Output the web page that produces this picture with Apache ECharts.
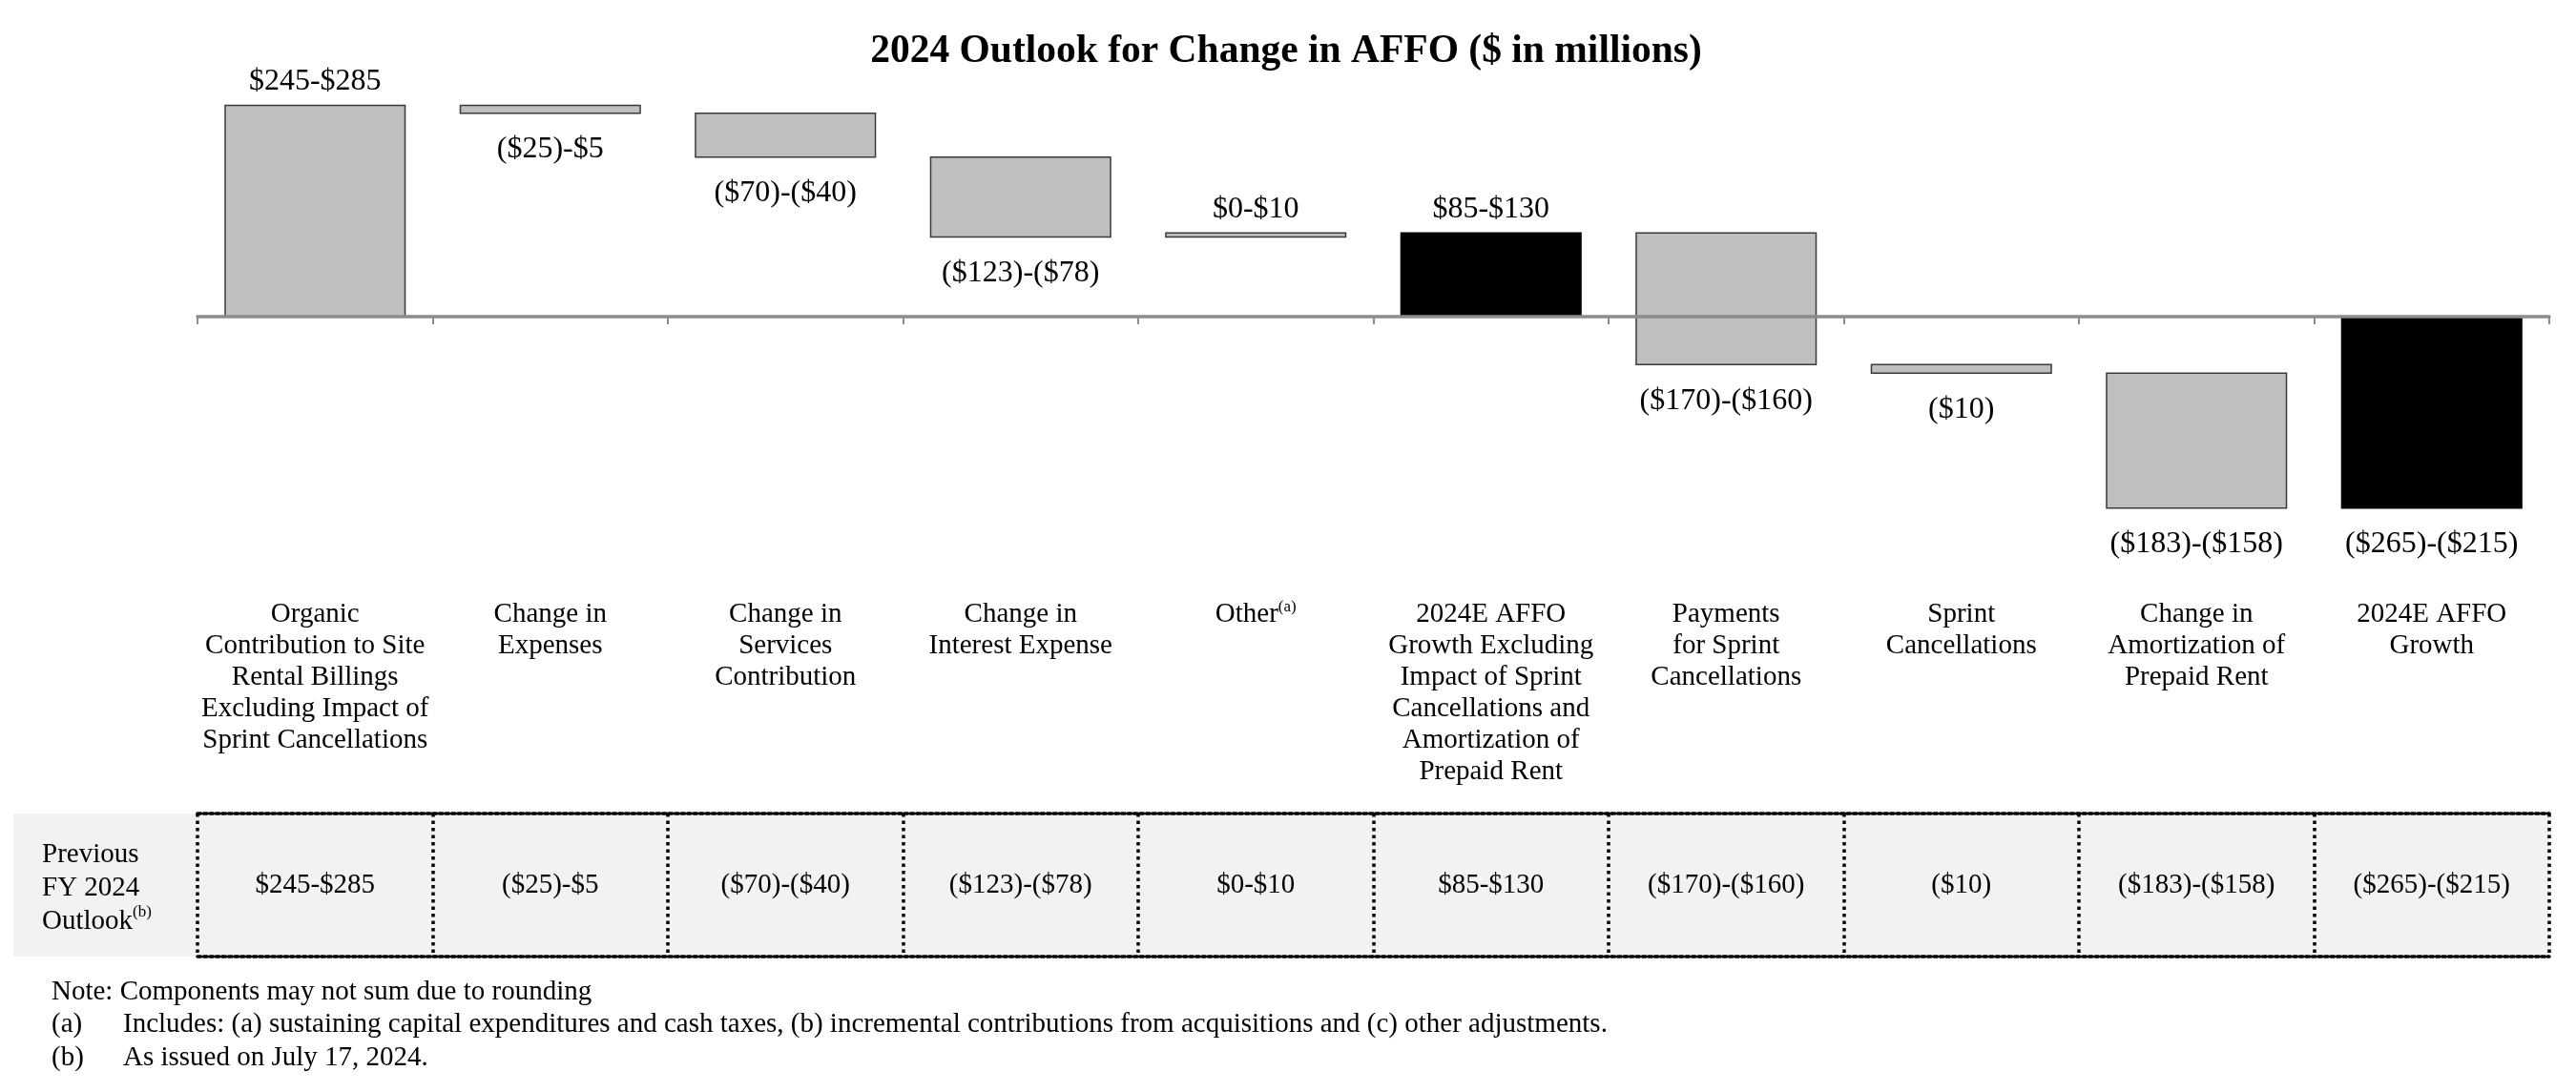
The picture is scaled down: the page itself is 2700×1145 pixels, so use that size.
<!DOCTYPE html>
<html><head><meta charset="utf-8">
<script src="https://cdn.jsdelivr.net/npm/echarts@6/dist/echarts.min.js"></script>
<style>html,body{margin:0;padding:0;background:#fff}#c{width:2700px;height:1145px}</style>
</head><body><div id="c"></div>
<script>
const titleText = '2024 Outlook for Change in AFFO ($ in millions)';
const categories = [
  'Organic\nContribution to Site\nRental Billings\nExcluding Impact of\nSprint Cancellations',
  'Change in\nExpenses',
  'Change in\nServices\nContribution',
  'Change in\nInterest Expense',
  'Other',
  '2024E AFFO\nGrowth Excluding\nImpact of Sprint\nCancellations and\nAmortization of\nPrepaid Rent',
  'Payments\nfor Sprint\nCancellations',
  'Sprint\nCancellations',
  'Change in\nAmortization of\nPrepaid Rent',
  '2024E AFFO\nGrowth'
];
const footnoteMarks = ['', '', '', '', '(a)', '', '', '', '', ''];
const barStart = [0, 265, 255, 200, 100, 0, 105, -60, -71, 0];
const barEnd   = [265, 255, 200, 100, 105, 105, -60, -71, -240, -240];
const barKind  = ['step','step','step','step','step','total','step','step','step','total'];
const valueLabels = ['$245-$285','($25)-$5','($70)-($40)','($123)-($78)','$0-$10','$85-$130','($170)-($160)','($10)','($183)-($158)','($265)-($215)'];
const previousOutlook = ['$245-$285','($25)-$5','($70)-($40)','($123)-($78)','$0-$10','$85-$130','($170)-($160)','($10)','($183)-($158)','($265)-($215)'];
const rowHeader = 'Previous\nFY 2024\nOutlook{sup|(b)}';
const notes = [
  ['', 'Note: Components may not sum due to rounding'],
  ['(a)', 'Includes: (a) sustaining capital expenditures and cash taxes, (b) incremental contributions from acquisitions and (c) other adjustments.'],
  ['(b)', 'As issued on July 17, 2024.']
];

const FONT = '"Liberation Serif", "Times New Roman", serif';
const chart = echarts.init(document.getElementById('c'), null, {renderer: 'canvas'});

const noteElems = [];
const noteY = [1040, 1074, 1109];
notes.forEach((n, k) => {
  if (n[0] === '') {
    noteElems.push({type: 'text', x: 54, y: noteY[k], z: 10, style: {text: n[1], fontSize: 29, fontFamily: FONT, fill: '#000', verticalAlign: 'middle'}});
  } else {
    noteElems.push({type: 'text', x: 54, y: noteY[k], z: 10, style: {text: n[0], fontSize: 29, fontFamily: FONT, fill: '#000', verticalAlign: 'middle'}});
    noteElems.push({type: 'text', x: 129, y: noteY[k], z: 10, style: {text: n[1], fontSize: 29, fontFamily: FONT, fill: '#000', verticalAlign: 'middle'}});
  }
});

const option = {
  backgroundColor: '#fff',
  animation: false,
  title: {
    text: titleText, left: 1343, top: 28, textAlign: 'center',
    textStyle: {fontSize: 41.5, fontWeight: 'bold', fontFamily: FONT, color: '#000'}
  },
  grid: [
    {left: 207, right: 28, top: 81.2, height: 501.6},
    {left: 207, right: 28, top: 853, height: 150}
  ],
  xAxis: [
    {
      type: 'category', gridIndex: 0, data: categories, z: 10,
      axisLine: {onZero: true, lineStyle: {color: '#8c8c8c', width: 3.5}},
      axisTick: {show: true, length: 8, lineStyle: {color: '#8c8c8c', width: 2}},
      axisLabel: {
        interval: 0, margin: 45, color: '#000', fontSize: 29, lineHeight: 33, fontFamily: FONT,
        formatter: (v, i) => footnoteMarks[i] ? v + '{sup|' + footnoteMarks[i] + '}' : v,
        rich: {sup: {fontSize: 17, lineHeight: 18, verticalAlign: 'top', fontFamily: FONT, color: '#000'}}
      },
      splitLine: {show: false}
    },
    {
      type: 'category', gridIndex: 1, data: categories, position: 'bottom',
      axisLine: {show: true, lineStyle: {color: '#000', width: 3.5, type: [3.5, 3]}},
      axisTick: {show: false}, axisLabel: {show: false},
      splitLine: {show: true, lineStyle: {color: '#000', width: 3.5, type: [3.5, 4]}}
    },
    {
      type: 'category', gridIndex: 1, data: categories, position: 'top',
      axisLine: {show: true, lineStyle: {color: '#000', width: 3.5, type: [3.5, 3]}},
      axisTick: {show: false}, axisLabel: {show: false}, splitLine: {show: false}
    }
  ],
  yAxis: [
    {type: 'value', gridIndex: 0, min: -300, max: 300, show: false},
    {type: 'value', gridIndex: 1, min: 0, max: 1, show: false}
  ],
  graphic: {elements: [
    {type: 'rect', z: -100, shape: {x: 14, y: 853, width: 2658, height: 150}, style: {fill: '#f2f2f2'}},
    {type: 'text', x: 44, y: 931, z: 10, style: {
      text: rowHeader, fontSize: 29, lineHeight: 35, fontFamily: FONT, fill: '#000', verticalAlign: 'middle',
      rich: {sup: {fontSize: 17, lineHeight: 18, verticalAlign: 'top', fontFamily: FONT, fill: '#000'}}
    }}
  ].concat(noteElems)},
  series: [
    {
      type: 'custom', xAxisIndex: 0, yAxisIndex: 0, z: 5,
      data: categories.map((c, i) => [i, barStart[i], barEnd[i]]),
      encode: {x: 0, y: [1, 2]},
      renderItem: function (params, api) {
        const i = api.value(0);
        const s = api.value(1), e = api.value(2);
        const pTop = api.coord([i, Math.max(s, e)]);
        const pBot = api.coord([i, Math.min(s, e)]);
        const bw = api.size([1, 0])[0] * 0.765;
        const total = barKind[i] === 'total';
        const up = e > s;
        return {type: 'group', children: [
          {type: 'rect', shape: {x: pTop[0] - bw / 2, y: pTop[1], width: bw, height: Math.max(pBot[1] - pTop[1], 1)},
           style: {fill: total ? '#000' : '#bfbfbf', stroke: total ? '#000' : '#3a3a3a', lineWidth: 1.5}},
          {type: 'text', x: pTop[0], y: up ? pTop[1] - 25 : pBot[1] + 38,
           style: {text: valueLabels[i], fontSize: 32, fontFamily: FONT, fill: '#000', align: 'center', verticalAlign: 'middle'}}
        ]};
      }
    },
    {
      type: 'custom', xAxisIndex: 1, yAxisIndex: 1, z: 5,
      data: previousOutlook.map((v, i) => [i, 0.5]),
      encode: {x: 0, y: 1},
      renderItem: function (params, api) {
        const i = api.value(0);
        const p = api.coord([i, api.value(1)]);
        return {type: 'text', x: p[0], y: p[1],
          style: {text: previousOutlook[i], fontSize: 29, fontFamily: FONT, fill: '#000', align: 'center', verticalAlign: 'middle'}};
      }
    }
  ]
};
chart.setOption(option);
</script>
</body></html>
